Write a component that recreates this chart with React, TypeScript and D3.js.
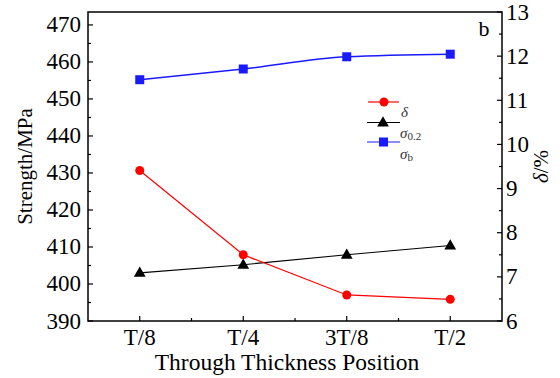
import * as d3 from "d3";

// data
const positions = ["T/8", "T/4", "3T/8", "T/2"];
const sigmaB = [455.2, 458.1, 461.4, 462.1]; // MPa, left axis
const sigma02 = [403.0, 405.2, 407.9, 410.4]; // MPa, left axis
const delta = [9.41, 7.5, 6.59, 6.49]; // %, right axis
const leftTicks = [390, 400, 410, 420, 430, 440, 450, 460, 470];
const rightTicks = [6, 7, 8, 9, 10, 11, 12, 13];

const W = 560;
const H = 378;
const margin = { top: 12, right: 58, bottom: 57, left: 88 };
const FONT = "Liberation Serif";
const BIG = 23;

const App = () => {
  const x = d3.scaleLinear().domain([0.5, 4.5]).range([margin.left, W - margin.right]);
  const yL = d3.scaleLinear().domain([390, 473.5]).range([H - margin.bottom, margin.top]);
  const yR = d3.scaleLinear().domain([6, 13]).range([H - margin.bottom, margin.top]);

  const x0 = margin.left;
  const x1 = W - margin.right;
  const y0 = H - margin.bottom;
  const y1 = margin.top;

  const blueLine = d3
    .line<number>()
    .x((_, i) => x(i + 1))
    .y((d) => yL(d))
    .curve(d3.curveMonotoneX)(sigmaB);
  const blackLine = d3
    .line<number>()
    .x((_, i) => x(i + 1))
    .y((d) => yL(d))(sigma02);
  const redLine = d3
    .line<number>()
    .x((_, i) => x(i + 1))
    .y((d) => yR(d))(delta);

  const leftMinor = d3.range(395, 473, 10);
  const rightMinor = d3.range(6.5, 13, 1);
  const xMinor = [1.5, 2.5, 3.5];

  const tri = d3.symbol(d3.symbolTriangle, 60)() as string;

  return (
    <svg width={W} height={H} style={{ position: "absolute", left: 0, top: 0, background: "#fff" }}>
      {/* frame */}
      <rect x={x0} y={y1} width={x1 - x0} height={y0 - y1} fill="none" stroke="#000" strokeWidth={1.5} />

      {/* left axis */}
      {leftTicks.map((t) => (
        <line key={"lt" + t} x1={x0} x2={x0 + 5} y1={yL(t)} y2={yL(t)} stroke="#000" strokeWidth={1.2} />
      ))}
      {leftMinor.map((t) => (
        <line key={"lm" + t} x1={x0} x2={x0 + 3} y1={yL(t)} y2={yL(t)} stroke="#000" strokeWidth={1.2} />
      ))}
      {leftTicks.map((t) => (
        <text key={"l" + t} x={x0 - 7} y={yL(t) + 7.5} textAnchor="end" fontSize={BIG} fontFamily={FONT}>
          {t}
        </text>
      ))}

      {/* right axis */}
      {rightTicks.map((t) => (
        <line key={"rt" + t} x1={x1} x2={x1 - 5} y1={yR(t)} y2={yR(t)} stroke="#000" strokeWidth={1.2} />
      ))}
      {rightMinor.map((t) => (
        <line key={"rm" + t} x1={x1} x2={x1 - 3} y1={yR(t)} y2={yR(t)} stroke="#000" strokeWidth={1.2} />
      ))}
      {rightTicks.map((t) => (
        <text key={"r" + t} x={x1 + 4} y={yR(t) + 7.5} fontSize={BIG} fontFamily={FONT}>
          {t}
        </text>
      ))}

      {/* bottom axis */}
      {positions.map((p, i) => (
        <line key={"bt" + p} x1={x(i + 1)} x2={x(i + 1)} y1={y0} y2={y0 - 5} stroke="#000" strokeWidth={1.2} />
      ))}
      {xMinor.map((t) => (
        <line key={"xm" + t} x1={x(t)} x2={x(t)} y1={y0} y2={y0 - 3} stroke="#000" strokeWidth={1.2} />
      ))}
      {positions.map((p, i) => (
        <text key={p} x={x(i + 1)} y={y0 + 24} textAnchor="middle" fontSize={BIG} fontFamily={FONT}>
          {p}
        </text>
      ))}

      {/* axis titles */}
      <text x={287} y={H - 8} textAnchor="middle" fontSize={23.5} fontFamily={FONT}>
        Through Thickness Position
      </text>
      <text transform={`translate(32,${(y0 + y1) / 2}) rotate(-90)`} textAnchor="middle" fontSize={21} fontFamily={FONT}>
        Strength/MPa
      </text>
      <text transform={`translate(548,${(y0 + y1) / 2}) rotate(-90)`} textAnchor="middle" fontSize={21} fontFamily={FONT}>
        <tspan fontStyle="italic">δ</tspan>/%
      </text>
      <text x={484} y={36} textAnchor="middle" fontSize={22} fontFamily={FONT}>
        b
      </text>

      {/* series */}
      <path d={blueLine ?? ""} fill="none" stroke="#1a1aff" strokeWidth={1.5} />
      <path d={blackLine ?? ""} fill="none" stroke="#000" strokeWidth={1.2} />
      <path d={redLine ?? ""} fill="none" stroke="#ff0000" strokeWidth={1.2} />
      {sigmaB.map((d, i) => (
        <rect key={"b" + i} x={x(i + 1) - 4.5} y={yL(d) - 4.5} width={9} height={9} fill="#1a1aff" />
      ))}
      {sigma02.map((d, i) => (
        <path key={"k" + i} d={tri} transform={`translate(${x(i + 1)},${yL(d) + 0.5})`} fill="#000" />
      ))}
      {delta.map((d, i) => (
        <circle key={"d" + i} cx={x(i + 1)} cy={yR(d)} r={4.5} fill="#ff0000" />
      ))}

      {/* legend */}
      <line x1={368} x2={399} y1={102} y2={102} stroke="#ff0000" strokeWidth={1.2} />
      <circle cx={384} cy={102} r={4.5} fill="#ff0000" />
      <text x={401} y={117} fontSize={15} fontStyle="italic" fill="#333" fontFamily={FONT}>
        δ
      </text>
      <line x1={367} x2={400} y1={122.5} y2={122.5} stroke="#000" strokeWidth={1.2} />
      <path d={tri} transform="translate(383,123)" fill="#000" />
      <text x={400} y={138} fontSize={15} fill="#333" fontFamily={FONT}>
        <tspan fontStyle="italic">σ</tspan>
        <tspan fontSize={11} dy={2}>0.2</tspan>
      </text>
      <line x1={367} x2={400} y1={142} y2={142} stroke="#1a1aff" strokeWidth={1.2} />
      <rect x={379} y={137.5} width={9} height={9} fill="#1a1aff" />
      <text x={400} y={159} fontSize={15} fill="#333" fontFamily={FONT}>
        <tspan fontStyle="italic">σ</tspan>
        <tspan fontSize={11} dy={2}>b</tspan>
      </text>
    </svg>
  );
};

export default App;
